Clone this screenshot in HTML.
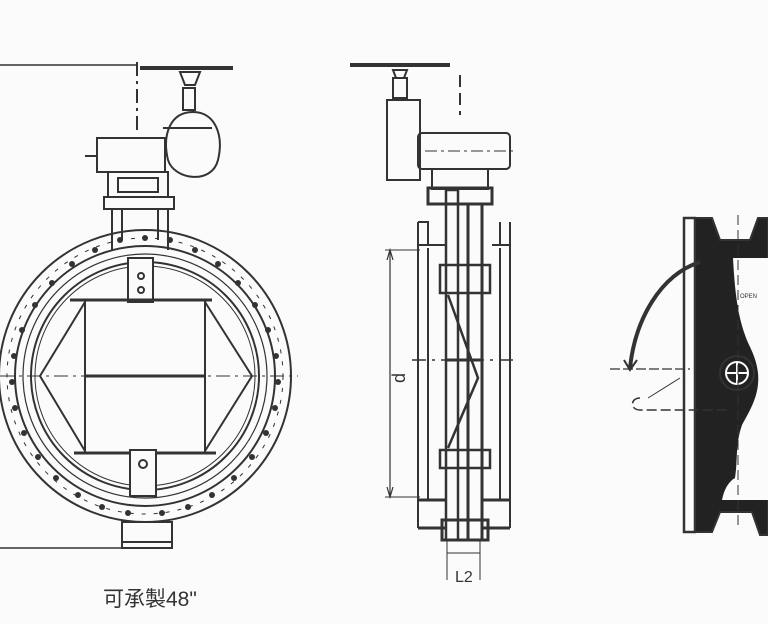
<!DOCTYPE html>
<html><head><meta charset="utf-8"><style>
html,body{margin:0;padding:0;background:#fbfbfb;}
svg{display:block}
text{font-family:"Liberation Sans","Noto Sans CJK TC",sans-serif;fill:#333}
</style></head><body>
<svg width="768" height="624" viewBox="0 0 768 624" xmlns="http://www.w3.org/2000/svg">
<g stroke="#333" fill="none" stroke-width="2">
<!-- LEFT VIEW -->
<line x1="0" y1="65" x2="137" y2="65" stroke-width="1.5"/>
<line x1="0" y1="548" x2="140" y2="548" stroke-width="1.5"/>
<line x1="137" y1="62" x2="137" y2="130" stroke-dasharray="14 5 3 5"/>
<line x1="140" y1="68" x2="233" y2="68" stroke-width="4"/>
<path d="M180 72 L200 72 L195 85 L185 85Z"/>
<rect x="183" y="88" width="12" height="22"/>
<path d="M193 112 C170 112 162 135 168 160 C174 180 212 185 218 160 C224 135 215 112 193 112Z"/>
<line x1="163" y1="128" x2="212" y2="128"/>
<rect x="97" y="138" width="68" height="34"/>
<line x1="85" y1="156" x2="97" y2="156"/>
<rect x="108" y="172" width="60" height="25"/>
<rect x="118" y="178" width="40" height="14"/>
<rect x="104" y="197" width="70" height="12"/>
<line x1="112" y1="209" x2="112" y2="250"/><line x1="168" y1="209" x2="168" y2="250"/>
<line x1="122" y1="209" x2="122" y2="240"/><line x1="158" y1="209" x2="158" y2="240"/>
<circle cx="145" cy="376" r="146"/>
<circle cx="145" cy="376" r="130"/>
<circle cx="145" cy="376" r="122" stroke-width="1.2"/>
<circle cx="145" cy="376" r="114"/>
<circle cx="145" cy="376" r="110" stroke-width="1"/>
<circle cx="145" cy="376" r="138" stroke-width="1" stroke-dasharray="4 8"/>
<rect x="128" y="258" width="25" height="44" fill="#fbfbfb"/>
<circle cx="141" cy="276" r="3"/><circle cx="141" cy="290" r="3"/>
<line x1="70" y1="300" x2="212" y2="300" stroke-width="3"/>
<line x1="74" y1="453" x2="216" y2="453" stroke-width="3"/>
<line x1="85" y1="300" x2="85" y2="453"/>
<line x1="205" y1="300" x2="205" y2="453"/>
<path d="M85 302 L40 376 L85 451 M205 302 L252 376 L205 451"/>
<line x1="0" y1="376" x2="298" y2="376" stroke-width="1" stroke-dasharray="14 5 3 5"/>
<line x1="85" y1="376" x2="205" y2="376" stroke-width="3"/>
<rect x="130" y="450" width="26" height="46" fill="#fbfbfb"/>
<circle cx="143" cy="464" r="4"/>
<rect x="122" y="522" width="50" height="26"/>
<line x1="122" y1="542" x2="172" y2="542"/>
</g>
<g fill="#333">
<circle cx="145" cy="238" r="3"/><circle cx="120" cy="240" r="3"/><circle cx="170" cy="240" r="3"/>
<circle cx="95" cy="250" r="3"/><circle cx="195" cy="250" r="3"/><circle cx="72" cy="264" r="3"/><circle cx="218" cy="264" r="3"/>
<circle cx="52" cy="283" r="3"/><circle cx="238" cy="283" r="3"/><circle cx="35" cy="305" r="3"/><circle cx="255" cy="305" r="3"/>
<circle cx="22" cy="330" r="3"/><circle cx="268" cy="330" r="3"/><circle cx="14" cy="356" r="3"/><circle cx="276" cy="356" r="3"/>
<circle cx="12" cy="382" r="3"/><circle cx="278" cy="382" r="3"/><circle cx="15" cy="408" r="3"/><circle cx="275" cy="408" r="3"/>
<circle cx="24" cy="433" r="3"/><circle cx="266" cy="433" r="3"/><circle cx="38" cy="457" r="3"/><circle cx="252" cy="457" r="3"/>
<circle cx="56" cy="478" r="3"/><circle cx="234" cy="478" r="3"/><circle cx="78" cy="495" r="3"/><circle cx="212" cy="495" r="3"/>
<circle cx="102" cy="507" r="3"/><circle cx="188" cy="507" r="3"/><circle cx="128" cy="513" r="3"/><circle cx="162" cy="513" r="3"/>
</g>
<text x="103" y="606" font-size="21">可承製48"</text>

<!-- MIDDLE VIEW -->
<g stroke="#333" fill="none" stroke-width="2">
<line x1="350" y1="65" x2="450" y2="65" stroke-width="4"/>
<path d="M393 70 L407 70 L404 78 L396 78Z"/>
<rect x="393" y="78" width="14" height="20"/>
<rect x="387" y="100" width="33" height="80"/>
<line x1="460" y1="75" x2="460" y2="115" stroke-dasharray="12 6"/>
<rect x="418" y="133" width="92" height="36" rx="4"/>
<line x1="425" y1="151" x2="515" y2="151" stroke-width="1" stroke-dasharray="12 4 3 4"/>
<rect x="432" y="169" width="56" height="20"/>
<rect x="428" y="188" width="64" height="16" stroke-width="3"/>
<rect x="446" y="190" width="12" height="350" stroke-width="2.5"/>
<rect x="468" y="204" width="14" height="336" stroke-width="3"/>
<path d="M418 222 V245 H446 M492 245 H510 V222 M418 222 H428 V245 M500 222 V245"/>
<line x1="418" y1="245" x2="418" y2="528"/><line x1="428" y1="248" x2="428" y2="500"/>
<line x1="510" y1="245" x2="510" y2="528"/><line x1="500" y1="248" x2="500" y2="500"/>
<rect x="440" y="265" width="50" height="28" stroke-width="2.5"/>
<rect x="440" y="450" width="50" height="18" stroke-width="2.5"/>
<path d="M448 295 L478 378 L448 448" stroke-width="2.5"/>
<line x1="412" y1="360" x2="518" y2="360" stroke-width="1.5" stroke-dasharray="14 6 3 6"/>
<line x1="446" y1="360" x2="482" y2="360" stroke-width="3"/>
<path d="M418 500 H446 M482 500 H510 M418 528 H446 M482 528 H510" stroke-width="3"/>
<rect x="442" y="520" width="46" height="20" stroke-width="3"/>
<line x1="390" y1="250" x2="390" y2="497" stroke-width="1.2"/>
<line x1="385" y1="250" x2="420" y2="250" stroke-width="1"/>
<line x1="385" y1="497" x2="420" y2="497" stroke-width="1"/>
<path d="M387 260 L390 250 L393 260 M387 487 L390 497 L393 487" stroke-width="1.2"/>
<line x1="447" y1="540" x2="447" y2="580" stroke-width="1"/>
<line x1="480" y1="540" x2="480" y2="580" stroke-width="1"/>
<line x1="447" y1="553" x2="480" y2="553" stroke-width="1"/>
</g>
<text x="405" y="383" font-size="18" transform="rotate(-90 405 383)">d</text>
<text x="455" y="582" font-size="16">L2</text>

<!-- RIGHT VIEW -->
<g stroke="#333" fill="none" stroke-width="2">
<rect x="684" y="218" width="11" height="314" stroke-width="2.5"/>
<path d="M695 218 H712 L720 240 H750 L758 218 H768 V535 H760 L752 512 H720 L712 532 H695Z" fill="#222"/>
<path d="M733 258 H768 V500 H722 C724 490 728 482 735 478 C738 460 735 445 742 425 C750 410 760 395 758 373 C756 355 748 345 745 335 C738 315 735 295 733 258Z" fill="#fbfbfb" stroke="none"/>
<circle cx="737" cy="373" r="17" fill="#222"/>
<circle cx="737" cy="373" r="11" stroke="#fbfbfb"/>
<line x1="726" y1="373" x2="748" y2="373" stroke="#fbfbfb"/>
<line x1="737" y1="362" x2="737" y2="384" stroke="#fbfbfb"/>
<line x1="738" y1="215" x2="738" y2="530" stroke-width="1" stroke-dasharray="10 5"/>
<path d="M700 262 C660 275 635 320 630 368" stroke-width="4"/>
<path d="M624 360 L630 370 L637 360" stroke-width="2"/>
<line x1="610" y1="369" x2="690" y2="369" stroke-width="1.2" stroke-dasharray="10 3"/>
<path d="M640 398 C630 398 630 410 640 410 H730" stroke-width="1.5" stroke-dasharray="10 4"/>
<line x1="648" y1="398" x2="680" y2="378" stroke-width="1"/>
</g>
<text x="740" y="298" font-size="6">OPEN</text>
</svg>
</body></html>
